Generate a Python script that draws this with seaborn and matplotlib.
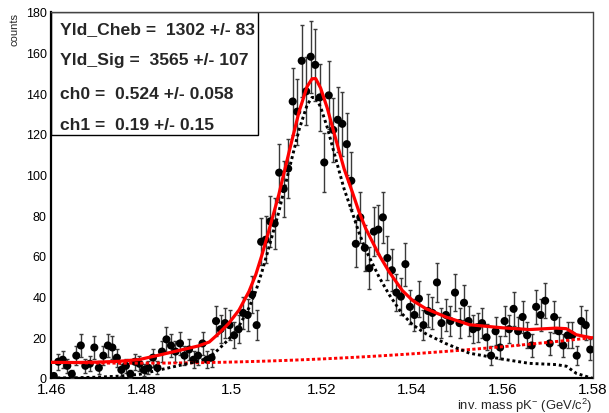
import numpy as np
import pandas as pd
import matplotlib
matplotlib.use("Agg")
import matplotlib.pyplot as plt
from matplotlib.patches import Rectangle
from matplotlib.ticker import MultipleLocator, FuncFormatter
import seaborn as sns

# ---- histogram of the pK- invariant mass: 120 bins of 1 MeV/c^2 ----
mass_lo, mass_hi = 1.46, 1.58
n_bins = 120
bin_counts = [
    1, 8, 9, 6, 2, 11, 16, 6, 7, 15,
    5, 11, 16, 15, 10, 4, 6, 2, 8, 7,
    4, 5, 10, 5, 13, 19, 16, 13, 17, 11,
    14, 9, 11, 17, 9, 10, 28, 24, 27, 26,
    21, 24, 32, 31, 41, 26, 67, 68, 77, 76,
    101, 93, 103, 136, 131, 156, 141, 158, 154, 138,
    106, 139, 122, 127, 125, 115, 97, 66, 79, 64,
    54, 72, 73, 79, 59, 53, 42, 40, 56, 35,
    31, 39, 26, 33, 32, 47, 27, 31, 28, 42,
    27, 37, 28, 24, 25, 27, 20, 11, 23, 15,
    28, 24, 34, 23, 30, 21, 16, 35, 31, 38,
    17, 30, 23, 16, 21, 21, 11, 28, 26, 14,
]
event_weight = 2.0  # each entry carries weight 2 -> error = sqrt(w * N)

# ---- fit results shown in the parameter box ----
yld_cheb, yld_cheb_err = 1302, 83
yld_sig, yld_sig_err = 3565, 107
ch0, ch0_err = 0.524, 0.058
ch1, ch1_err = 0.19, 0.15

# ---- signal template (counts per bin) ----
sig_mass = [1.460, 1.465, 1.470, 1.475, 1.4795, 1.484, 1.488, 1.4925, 1.495,
            1.497, 1.4993, 1.5016, 1.5038, 1.5053, 1.5067, 1.5082, 1.5104,
            1.5127, 1.5149, 1.5167, 1.5178, 1.5186, 1.5197, 1.5212, 1.523,
            1.5249, 1.5267, 1.5282, 1.5297, 1.5327, 1.5349, 1.5378, 1.5401,
            1.543, 1.5475, 1.5527, 1.560, 1.566, 1.5719, 1.5742, 1.5764,
            1.5797, 1.580]
sig_counts = [0.0, 0.1, 0.4, 0.9, 1.8, 4.0, 6.0, 8.2, 10.1,
              14.0, 19.0, 25.5, 34.5, 42.6, 52.4, 64.0, 81.5,
              102.5, 122.0, 134.3, 138.0, 138.0, 133.2, 123.0, 108.2,
              93.0, 81.5, 71.5, 63.0, 49.5, 41.0, 31.5, 26.2,
              21.8, 16.9, 12.2, 9.3, 7.2, 6.6, 5.8, 2.3,
              0.0, 0.0]

x_ticks = [1.46, 1.48, 1.50, 1.52, 1.54, 1.56, 1.58]
y_ticks = [0, 20, 40, 60, 80, 100, 120, 140, 160, 180]

bin_w = (mass_hi - mass_lo) / n_bins


def cheb_bkg(m):
    """2nd-order Chebyshev background, normalised to yld_cheb, per bin."""
    m = np.asarray(m, dtype=float)
    x = (2.0 * m - (mass_lo + mass_hi)) / (mass_hi - mass_lo)
    f = 1.0 + ch0 * x + ch1 * (2.0 * x ** 2 - 1.0)
    norm = 0.5 * (mass_hi - mass_lo) * (2.0 - 2.0 * ch1 / 3.0)
    return yld_cheb * bin_w * f / norm


centers = mass_lo + bin_w * (np.arange(n_bins) + 0.5)
df = pd.DataFrame({"mass": centers, "counts": bin_counts})
df["err"] = np.sqrt(event_weight * df["counts"])

sig_df = pd.DataFrame({"mass": sig_mass, "signal": sig_counts})
sig_df["total"] = sig_df["signal"] + cheb_bkg(sig_df["mass"])
bkg_grid = np.linspace(mass_lo, mass_hi, 121)
bkg_df = pd.DataFrame({"mass": bkg_grid, "bkg": cheb_bkg(bkg_grid)})

# ---- style ----
sns.set_style("white")
plt.rcParams["font.family"] = ["Liberation Sans", "DejaVu Sans"]
plt.rcParams["mathtext.fontset"] = "custom"
plt.rcParams["mathtext.rm"] = "Liberation Sans"
plt.rcParams["mathtext.it"] = "Liberation Sans:italic"

fig = plt.figure(figsize=(6.09, 4.14), dpi=100)
ax = fig.add_axes([51.5 / 609, 1 - 379 / 414, 541 / 609, 366 / 414])

# data points with error bars
ax.errorbar(df["mass"], df["counts"], yerr=df["err"], fmt="none",
            ecolor="#3a3a3a", elinewidth=1.0, capsize=1.5, capthick=1.0,
            zorder=3)
sns.scatterplot(data=df, x="mass", y="counts", ax=ax, color="black",
                s=34, edgecolor="none", linewidth=0, zorder=4, legend=False)

# fit components
sns.lineplot(data=bkg_df, x="mass", y="bkg", ax=ax, color="red",
             linewidth=2.1, estimator=None, sort=False, zorder=5)
ax.lines[-1].set_linestyle((0, (1.1, 0.8)))
sns.lineplot(data=sig_df, x="mass", y="signal", ax=ax, color="black",
             linewidth=2.1, estimator=None, sort=False, zorder=5)
ax.lines[-1].set_linestyle((0, (1.0, 1.0)))
sns.lineplot(data=sig_df, x="mass", y="total", ax=ax, color="red",
             linewidth=2.3, estimator=None, sort=False, zorder=6)

# axes
ax.set_xlim(mass_lo, mass_hi)
ax.set_ylim(0, 180)
ax.set_xticks(x_ticks)
ax.set_yticks(y_ticks)
ax.xaxis.set_minor_locator(MultipleLocator(0.005))
ax.yaxis.set_minor_locator(MultipleLocator(5))
ax.xaxis.set_major_formatter(FuncFormatter(lambda v, p: f"{v:g}"))
ax.yaxis.set_major_formatter(FuncFormatter(lambda v, p: f"{v:g}"))
ax.tick_params(axis="x", which="major", direction="in", length=7.7,
               width=1.0, labelsize=11.0, pad=3.0, colors="black")
ax.tick_params(axis="x", which="minor", direction="in", length=4.0,
               width=1.0)
ax.tick_params(axis="y", which="major", direction="in", length=10.8,
               width=1.0, labelsize=9.0, pad=3.5, colors="black")
ax.tick_params(axis="y", which="minor", direction="in", length=5.5,
               width=1.0)
ax.tick_params(top=False, right=False, which="both")
for side in ("left", "bottom"):
    ax.spines[side].set_linewidth(1.6)
    ax.spines[side].set_color("black")
for side in ("right", "top"):
    ax.spines[side].set_linewidth(1.0)
    ax.spines[side].set_color("#444444")

ax.set_xlabel(r"inv. mass pK$^{-}$ (GeV/c$^{2}$)", fontsize=9.4)
ax.xaxis.set_label_coords(1.0, -0.073)
ax.xaxis.label.set_horizontalalignment("right")
ax.xaxis.label.set_verticalalignment("center")
ax.set_ylabel("counts", fontsize=8.0)
ax.yaxis.set_label_coords(-0.069, 1.0)
ax.yaxis.label.set_verticalalignment("center")
ax.yaxis.label.set_horizontalalignment("right")

# parameter box
box = Rectangle((0.0, 0.6648), 0.3817, 1.0 - 0.6648, transform=ax.transAxes,
                facecolor="white", edgecolor="black", linewidth=1.0,
                zorder=2)
ax.add_patch(box)
box_lines = [
    (f"Yld_Cheb =  {yld_cheb} +/- {yld_cheb_err}", 0.9426),
    (f"Yld_Sig =  {yld_sig} +/- {yld_sig_err}", 0.8587),
    (f"ch0 =  {ch0:.3f} +/- {ch0_err:.3f}", 0.7650),
    (f"ch1 =  {ch1:.2f} +/- {ch1_err:.2f}", 0.6811),
]
for txt, yb in box_lines:
    ax.text(0.0157, yb, txt, transform=ax.transAxes, fontsize=12.6,
            fontweight="bold", ha="left", va="baseline", zorder=7)

fig.savefig("out.png", dpi=100)
